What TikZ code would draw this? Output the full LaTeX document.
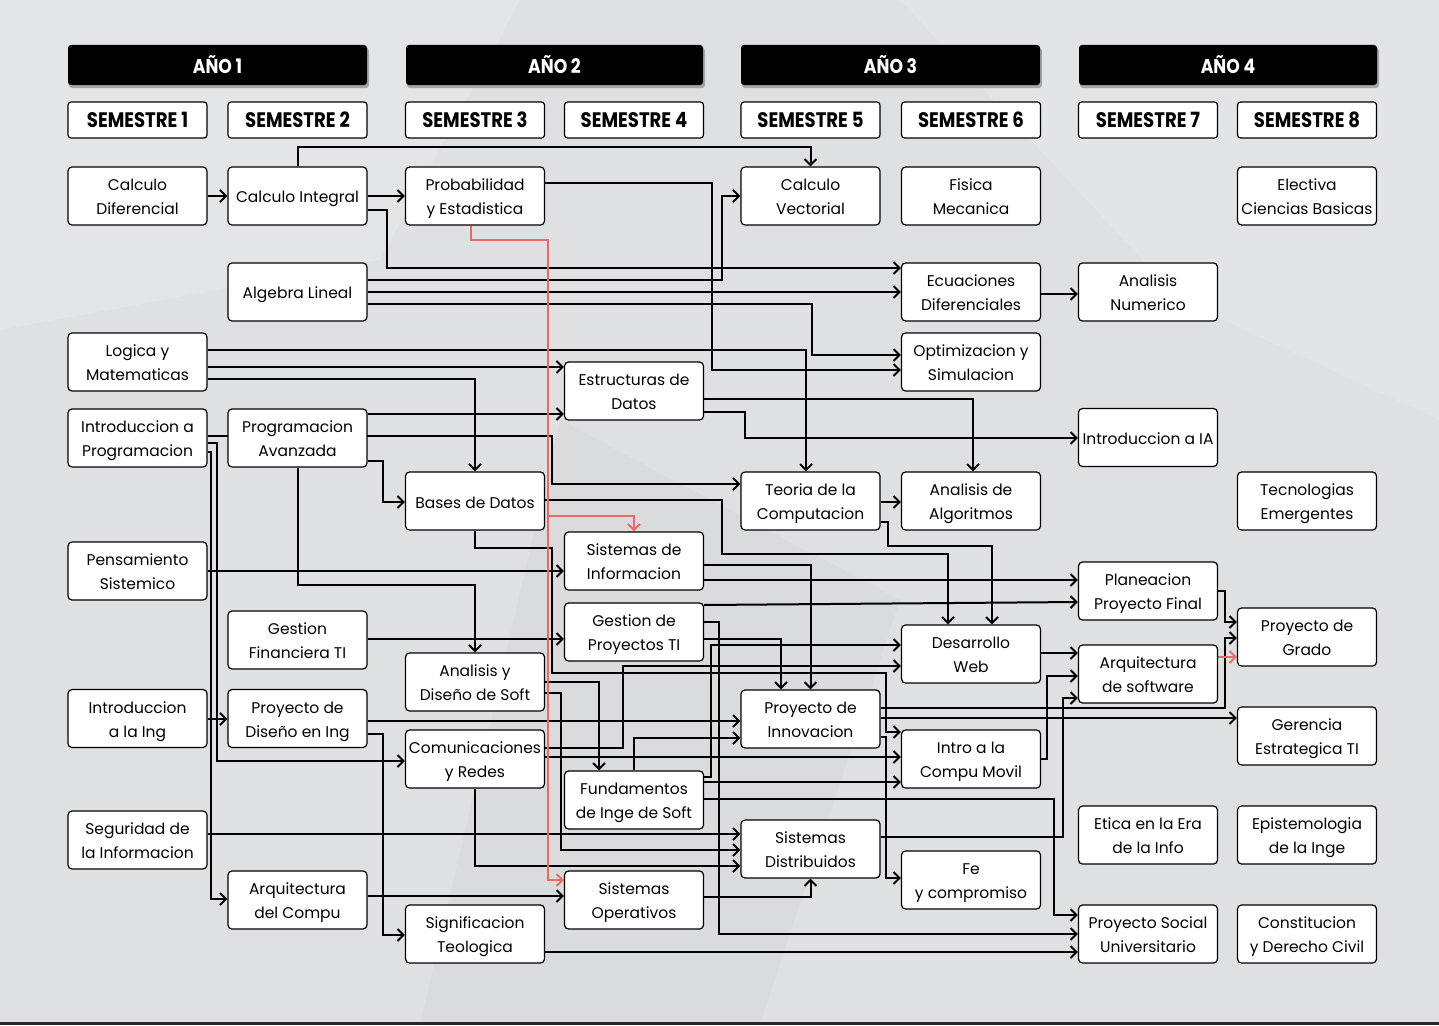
\documentclass[tikz,border=0pt]{standalone}
\usepackage{fontspec}
\setmainfont{Poppins}
\newfontfamily\headfont[FakeStretch=0.86]{Poppins}
\usetikzlibrary{arrows.meta}
\definecolor{paper}{RGB}{223,224,226}
\definecolor{redline}{RGB}{233,106,96}
\pgfdeclarelayer{paperlayer}
\pgfdeclarelayer{edges}
\pgfsetlayers{paperlayer,edges,main}
\begin{document}
\begin{tikzpicture}[x=1pt,y=-1pt,
  coursebase/.style={draw, line width=1.2pt, fill=white, rounded corners=4pt,
    minimum width=139pt, minimum height=58pt, align=center, inner sep=1pt,
    font=\fontsize{15.5}{24}\selectfont},
  course/.style={coursebase,
    execute at begin node={\rule{0pt}{41.5pt}},
    execute at end node={\rule[-4pt]{0pt}{0pt}}},
  one/.style={coursebase,
    execute at begin node={\rule{0pt}{18pt}},
    execute at end node={\rule[-4pt]{0pt}{0pt}}},
  yearbox/.style={fill=black, rounded corners=3pt, minimum height=40pt,
    text=white, font=\headfont\bfseries\fontsize{20}{22}\selectfont},
  sembox/.style={draw, line width=1.2pt, fill=white, rounded corners=3pt,
    minimum width=139pt, minimum height=36pt,
    font=\headfont\bfseries\fontsize{21}{22}\selectfont},
  conn/.style={draw, line width=2pt,
    -{Straight Barb[length=6pt,width=12pt,line width=2pt]}},
  redconn/.style={conn, draw=redline}]
\useasboundingbox (0,0) rectangle (1439,1025);
\begin{pgfonlayer}{paperlayer}
  \fill[paper] (0,0) rectangle (1439,1025);
  \fill[white, opacity=0.18] (0,0) -- (520,0) -- (380,260) -- (0,330) -- cycle;
  \fill[white, opacity=0.15] (900,0) -- (1439,0) -- (1439,420) -- (1180,300) -- cycle;
  \fill[black, opacity=0.02] (560,420) -- (900,600) -- (760,1025) -- (420,1025) -- cycle;
  \fill[black!85] (0,1022) rectangle (1439,1025);
\end{pgfonlayer}

% year headers
\foreach \cx/\w/\t [count=\i] in {217.5/299/AÑO 1,554.5/297/AÑO 2,890.5/299/AÑO 3,1228/298/AÑO 4}{
  \fill[black!35, rounded corners=3pt] (\cx-\w/2+1,48) rectangle (\cx+\w/2+2,88);
  \node[yearbox, minimum width=\w pt] (Y\i) at (\cx,65) {\t};
}
% semesters
\foreach \cx [count=\i] in {137.5,297.5,475,634,810.5,971,1148,1307}{
  \node[sembox] (S\i) at (\cx,120) {SEMESTRE \i};
}

% column 1
\node[course] (CD)  at (137.5,196) {Calculo\\Diferencial};
\node[course] (LM)  at (137.5,362) {Logica y\\Matematicas};
\node[course] (IP)  at (137.5,438) {Introduccion a\\Programacion};
\node[course] (PS)  at (137.5,571) {Pensamiento\\Sistemico};
\node[course] (II)  at (137.5,718.5) {Introduccion\\a la Ing};
\node[course] (SEG) at (137.5,840) {Seguridad de\\la Informacion};
% column 2
\node[one]    (CI)  at (297.5,196) {Calculo Integral};
\node[one]    (AL)  at (297.5,292) {Algebra Lineal};
\node[course] (PA)  at (297.5,438) {Programacion\\Avanzada};
\node[course] (GF)  at (297.5,640) {Gestion\\Financiera TI};
\node[course] (PDI) at (297.5,718.5) {Proyecto de\\Diseño en Ing};
\node[course] (AC)  at (297.5,900) {Arquitectura\\del Compu};
% column 3
\node[course] (PE)  at (475,196) {Probabilidad\\y Estadistica};
\node[one]    (BD)  at (475,501) {Bases de Datos};
\node[course] (ADS) at (475,682) {Analisis y\\Diseño de Soft};
\node[course] (CR)  at (475,759) {Comunicaciones\\y Redes};
\node[course] (ST)  at (475,934) {Significacion\\Teologica};
% column 4
\node[course] (EDat) at (634,391) {Estructuras de\\Datos};
\node[course] (SI)   at (634,561) {Sistemas de\\Informacion};
\node[course] (GP)   at (634,632) {Gestion de\\Proyectos TI};
\node[course] (FIS)  at (634,800) {Fundamentos\\de Inge de Soft};
\node[course] (SO)   at (634,900) {Sistemas\\Operativos};
% column 5
\node[course] (CV) at (810.5,196) {Calculo\\Vectorial};
\node[course] (TC) at (810.5,501) {Teoria de la\\Computacion};
\node[course] (PI) at (810.5,719) {Proyecto de\\Innovacion};
\node[course] (SD) at (810.5,849) {Sistemas\\Distribuidos};
% column 6
\node[course] (FM)   at (971,196) {Fisica\\Mecanica};
\node[course] (EDif) at (971,292) {Ecuaciones\\Diferenciales};
\node[course] (OS)   at (971,362) {Optimizacion y\\Simulacion};
\node[course] (AA)   at (971,501) {Analisis de\\Algoritmos};
\node[course] (DW)   at (971,654) {Desarrollo\\Web};
\node[course] (ICM)  at (971,759) {Intro a la\\Compu Movil};
\node[course] (FE)   at (971,880) {Fe\\y compromiso};
% column 7
\node[course] (AN)  at (1148,292) {Analisis\\Numerico};
\node[one]    (IA)  at (1148,437.5) {Introduccion a IA};
\node[course] (PPF) at (1148,591) {Planeacion\\Proyecto Final};
\node[course] (ARQ) at (1148,674) {Arquitectura\\de software};
\node[course] (ETI) at (1148,835) {Etica en la Era\\de la Info};
\node[course] (PSU) at (1148,934) {Proyecto Social\\Universitario};
% column 8
\node[course] (ECB) at (1307,196) {Electiva\\Ciencias Basicas};
\node[course] (TE)  at (1307,501) {Tecnologias\\Emergentes};
\node[course] (PG)  at (1307,637) {Proyecto de\\Grado};
\node[course] (GE)  at (1307,736) {Gerencia\\Estrategica TI};
\node[course] (EPI) at (1307,835) {Epistemologia\\de la Inge};
\node[course] (CDC) at (1307,934) {Constitucion\\y Derecho Civil};

\begin{pgfonlayer}{edges}
\draw[conn] (CD.east |- 0,196) -- (CI.west |- 0,196);
\draw[conn] (CI.east |- 0,196) -- (PE.west |- 0,196);
\draw[conn] (CI.north) |- (CV.north |- 0,147) -- (CV.north);
\draw[conn] (CI.east |- 0,210) -| (387,268) -- (EDif.west |- 0,268);
\draw[conn] (PE.east |- 0,183) -| (712,370) -- (OS.west |- 0,370);
\draw[conn] (AL.east |- 0,280) -| (722,196) -- (CV.west |- 0,196);
\draw[conn] (AL.east |- 0,292) -- (EDif.west |- 0,292);
\draw[conn] (AL.east |- 0,304) -| (812,355) -- (OS.west |- 0,355);
\draw[conn] (LM.east |- 0,350) -| (TC.north -| 806,0);
\draw[conn] (LM.east |- 0,367) -- (EDat.west |- 0,367);
\draw[conn] (LM.east |- 0,379) -| (BD.north);
\draw[conn] (PA.east |- 0,414) -- (EDat.west |- 0,414);
\draw[conn] (IP.east |- 0,436) -| (552,484) -- (TC.west |- 0,484);
\draw[conn] (PA.east |- 0,461) -| (383,502) -- (BD.west |- 0,502);
\draw[conn] (EDat.east |- 0,399) -| (AA.north -| 973,0);
\draw[conn] (EDat.east |- 0,412) -| (745,438) -- (IA.west |- 0,438);
\draw[conn] (EDif.east |- 0,294) -- (AN.west |- 0,294);
\draw[conn] (BD.east |- 0,500) -| (722,554) -| (DW.north -| 948,0);
\draw[conn] (TC.east |- 0,502) -- (AA.west |- 0,502);
\draw[conn] (TC.east |- 0,522) -| (888,546) -| (DW.north -| 992,0);
\draw[conn] (PS.east |- 0,571) -- (SI.west |- 0,571);
\draw[conn] (PA.south) |- (ADS.north |- 0,585) -- (ADS.north);
\draw[conn] (GF.east |- 0,639) -- (GP.west |- 0,639);
\draw[conn] (II.east |- 0,719) -- (PDI.west |- 0,719);
\draw[conn] (PDI.east |- 0,721) -- (PI.west |- 0,721);
\draw[conn] (PDI.east |- 0,734) -| (383,935) -- (ST.west |- 0,935);
\draw[conn] (BD.south) |- (552,548) |- (886,673) |- (ICM.west |- 0,732);
\draw[conn] (SI.east |- 0,565) -| (PI.north);
\draw[conn] (SI.east |- 0,580) -- (PPF.west |- 0,580);
\draw[conn] (GP.east |- 0,605) -- (PPF.west |- 0,602);
\draw[conn] (GP.east |- 0,622) -| (719,934) -- (PSU.west |- 0,934);
\draw[conn] (GP.east |- 0,639) -| (PI.north -| 781,0);
\draw[conn] (FIS.east |- 0,777) -| (711,645) -- (DW.west |- 0,645);
\draw[conn] (CR.east |- 0,748) -| (623,666) -- (DW.west |- 0,666);
\draw[conn] (ADS.east |- 0,682) -| (FIS.north -| 599,0);
\draw[conn] (ADS.east |- 0,693) -| (561,850) -- (SD.west |- 0,850);
\draw[conn] (FIS.north) |- (PI.west |- 0,738);
\draw[conn] (PI.east |- 0,708) -| (1225,638) -- (PG.west |- 0,638);
\draw[conn] (PI.east |- 0,718) -- (GE.west |- 0,718);
\draw[conn] (PI.east |- 0,737) -| (886,878) -- (FE.west |- 0,878);
\draw[conn] (CR.east |- 0,757) -- (ICM.west |- 0,757);
\draw[conn] (FIS.east |- 0,782) -- (ICM.west |- 0,782);
\draw[conn] (ICM.east |- 0,759) -| (1047,676) -- (ARQ.west |- 0,676);
\draw[conn] (DW.east |- 0,653) -- (ARQ.west |- 0,653);
\draw[conn] (SD.east |- 0,837) -| (1063,698) -- (ARQ.west |- 0,698);
\draw[conn] (FIS.east |- 0,799) -| (1054,915) -- (PSU.west |- 0,915);
\draw[conn] (SEG.east |- 0,834) -- (SD.west |- 0,834);
\draw[conn] (CR.south) |- (SD.west |- 0,866);
\draw[conn] (IP.east |- 0,452) -| (211,899) -- (AC.west |- 0,899);
\draw[conn] (IP.east |- 0,443) -| (217,761) -- (CR.west |- 0,761);
\draw[conn] (AC.east |- 0,896) -- (SO.west |- 0,896);
\draw[conn] (SO.east |- 0,897) -| (SD.south);
\draw[conn] (ST.east |- 0,952) -- (PSU.west |- 0,952);
\draw[conn] (PPF.east |- 0,591) -| (1225,622) -- (PG.west |- 0,622);
% red connectors
\draw[redconn] (PE.south -| 471,0) |- (548,240) |- (SO.west |- 0,880);
\coordinate (rj) at (548,516);
\draw[redconn] (rj) -| (SI.north);
\draw[redconn] (ARQ.east |- 0,657) -- (PG.west |- 0,657);
\end{pgfonlayer}
\end{tikzpicture}
\end{document}
